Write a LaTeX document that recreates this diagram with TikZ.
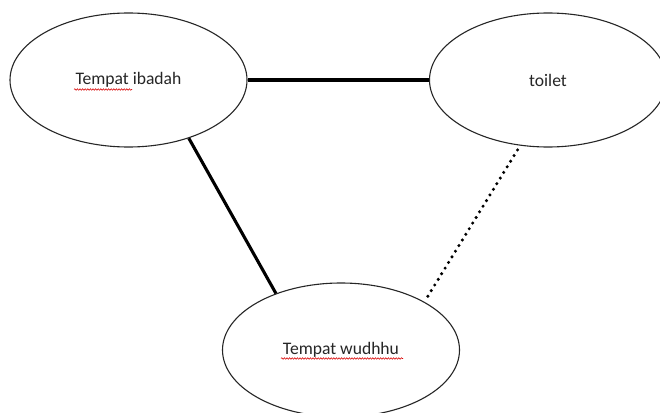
\documentclass[tikz,border=0pt]{standalone}
\usepackage{fontspec}
\setmainfont{Carlito}
\usetikzlibrary{shapes.geometric,decorations.pathmorphing}
\begin{document}
\begin{tikzpicture}[x=1pt,y=-1pt,
  place/.style={ellipse,draw=black!85,line width=1.1pt,minimum width=237pt,minimum height=134pt,inner sep=0pt,font=\fontsize{17.6}{20}\selectfont,text=black!85},
  link/.style={line width=3.1pt,black},
  weaklink/.style={line width=3.4pt,black,line cap=round,dash pattern=on 0pt off 6.6pt},
  spell/.style={red!85!black,line width=0.55pt,decorate,decoration={snake,amplitude=0.8pt,segment length=2.6pt}}]
  \useasboundingbox (0,0) rectangle (660,412);
  \clip (0,0) rectangle (660,412);
  \fill[white] (0,0) rectangle (660,412);

  % the three rooms
  \node[place] (ibadah) at (128.5,80) {Tempat ibadah};
  \node[place] (toilet) at (548,80) {toilet};
  \node[place] (wudhu) at (341,350) {Tempat wudhhu};

  % spell-check squiggles under the labels
  \coordinate (s1a) at (74,89.5);
  \coordinate (s1b) at (132,89.5);
  \coordinate (s2a) at (281,358.5);
  \coordinate (s2b) at (403,358.5);
  \draw[spell] (s1a) -- (s1b);
  \draw[spell] (s2a) -- (s2b);

  % connections
  \draw[link] (ibadah.east) -- (toilet.west);
  \draw[link] (ibadah.-44) -- (wudhu.139);
  \draw[weaklink,shorten <=5pt] (toilet.-113) -- (wudhu.30);
\end{tikzpicture}
\end{document}
